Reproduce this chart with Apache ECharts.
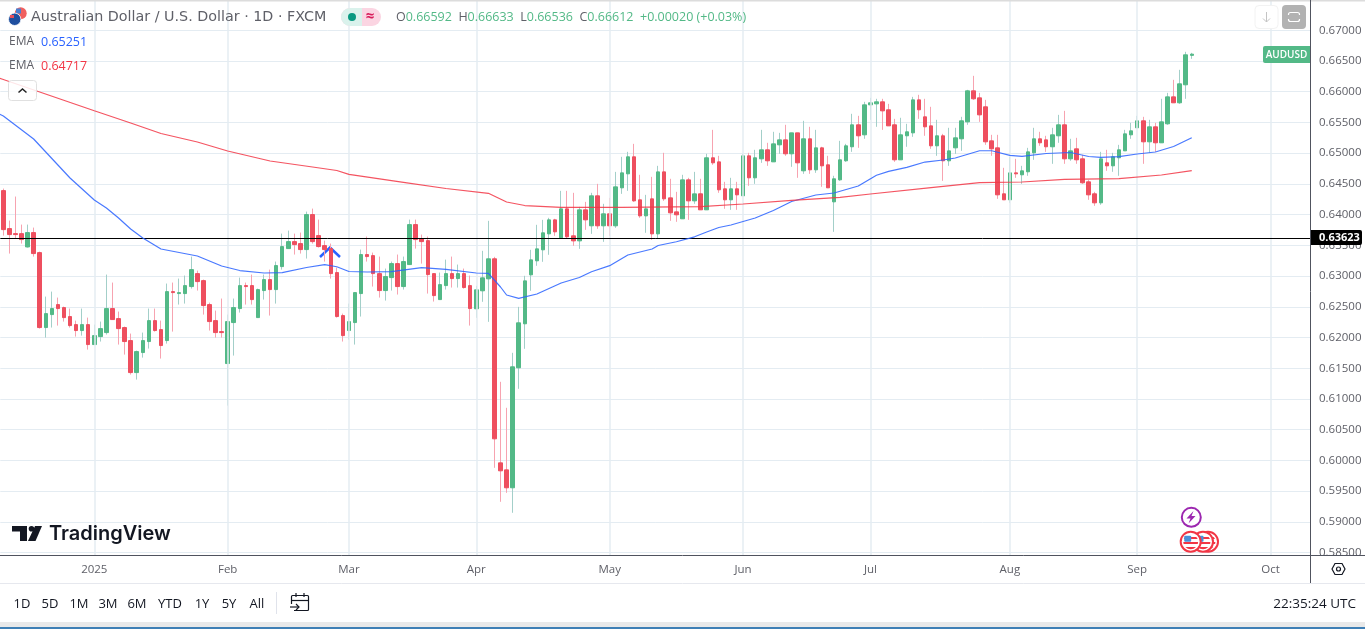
<!DOCTYPE html>
<html>
<head>
<meta charset="utf-8">
<title>AUDUSD</title>
<style>
html, body { margin: 0; padding: 0; background: #fff; }
#main { width: 1365px; height: 629px; }
</style>
<script src="https://cdn.jsdelivr.net/npm/echarts@6/dist/echarts.min.js"></script>
</head>
<body>
<div id="main"></div>
<script>
// axis labels, keyed by trading-day index
var monthTicks = {15: '2025', 37: 'Feb', 57: 'Mar', 78: 'Apr', 100: 'May', 122: 'Jun', 143: 'Jul', 166: 'Aug', 187: 'Sep', 209: 'Oct'};
var yTicks = [0.585, 0.59, 0.595, 0.6, 0.605, 0.61, 0.615, 0.62, 0.625, 0.63, 0.635, 0.64, 0.645, 0.65, 0.655, 0.66, 0.665, 0.67];
var lastPrice = 0.63623;

// open, close, low, high
var candles = [
[.64391,.63756,.63659,.64424],[.63773,.63675,.63366,.63903],[.63691,.63675,.63610,.64294],[.63691,.63594,.63529,.63838],
[.63474,.63708,.63464,.63838],[.63708,.63366,.63317,.63789],[.63382,.62162,.62145,.63398],[.62162,.62389,.61999,.62666],
[.62373,.62471,.62162,.62747],[.62536,.62471,.62194,.62650],[.62487,.62324,.62259,.62503],[.62341,.62194,.62162,.62471],
[.62210,.62113,.62015,.62275],[.62113,.62210,.62031,.62471],[.62210,.61885,.61803,.62324],[.61885,.62031,.61885,.62210],
[.62015,.62145,.61934,.62259],[.62080,.62471,.62048,.63024],[.62471,.62292,.62292,.62894],[.62308,.62145,.61885,.62422],
[.62162,.61934,.61722,.62178],[.61950,.61429,.61397,.62064],[.61429,.61771,.61315,.61787],[.61755,.61950,.61673,.62080],
[.61934,.62275,.61820,.62471],[.62275,.62113,.62096,.62471],[.62129,.61869,.61657,.62275],[.61950,.62747,.61901,.62878],
[.62747,.62731,.62096,.62894],[.62715,.62731,.62536,.62959],[.62715,.62845,.62552,.63008],[.62829,.63105,.62796,.63317],
[.63040,.62910,.62764,.63089],[.62926,.62520,.62373,.62943],[.62536,.62259,.62113,.62568],[.62275,.62080,.61999,.62438],
[.62096,.62080,.61999,.62634],[.61576,.62259,.60892,.62373],[.62243,.62487,.61706,.62634],[.62471,.62845,.62406,.62975],
[.62845,.62829,.62536,.62894],[.62845,.62617,.62536,.63024],[.62324,.62780,.62324,.62796],[.62764,.62943,.62617,.63024],
[.62943,.62780,.62357,.63105],[.62780,.63171,.62552,.63236],[.63154,.63480,.63105,.63691],[.63447,.63561,.63447,.63740],
[.63561,.63512,.63350,.63691],[.63529,.63431,.63366,.63708],[.63431,.64001,.63285,.64049],[.64001,.63561,.63529,.64098],
[.63659,.63480,.63464,.63919],[.63496,.63431,.63236,.63577],[.63447,.63040,.62959,.63529],[.63057,.62341,.62324,.63138],
[.62357,.62031,.61934,.62389],[.62113,.62259,.61966,.62552],[.62243,.62731,.61885,.62731],[.62715,.63350,.62341,.63431],
[.63350,.63317,.63236,.63643],[.63333,.63040,.62829,.63382],[.63040,.62764,.62650,.63317],[.62764,.62992,.62601,.63122],
[.62975,.63203,.62764,.63236],[.63203,.62829,.62699,.63350],[.62829,.63236,.62780,.63317],[.63187,.63838,.63187,.63919],
[.63838,.63594,.63447,.63919],[.63610,.63561,.63203,.63675],[.63577,.63024,.62715,.63643],[.63040,.62682,.62585,.63040],
[.62617,.62861,.62617,.63057],[.62845,.63040,.62780,.63268],[.63040,.62959,.62813,.63317],[.62959,.63040,.62813,.63187],
[.63040,.62813,.62796,.63122],[.62845,.62471,.62194,.63008],[.62467,.62776,.62320,.62841],[.62760,.62971,.62581,.63411],
[.62955,.63281,.62255,.63899],[.63281,.60351,.59879,.63313],[.59960,.59830,.59326,.61279],[.59846,.59554,.59472,.60856],
[.59554,.61523,.59147,.61751],[.61507,.62239,.61165,.62499],[.62223,.62922,.61816,.63004],[.63020,.63264,.62760,.63427],
[.63248,.63443,.63167,.63834],[.63427,.63704,.63232,.63915],[.63687,.63915,.63346,.63948],[.63915,.63720,.63655,.63932],
[.63622,.64094,.63606,.64387],[.64094,.63639,.63606,.64387],[.63655,.63573,.63492,.64355],[.63573,.64078,.63443,.64127],
[.64078,.63915,.63752,.64208],[.63818,.64306,.63687,.64355],[.64306,.63818,.63769,.64501],[.63818,.64013,.63557,.64176],
[.64013,.63818,.63655,.64273],[.63818,.64452,.63785,.64696],[.64436,.64680,.64338,.64941],[.64664,.64941,.64387,.65022],
[.64941,.64224,.64208,.65152],[.64241,.63980,.63948,.64648],[.63980,.64094,.63704,.64322],[.64257,.63687,.63590,.64615],
[.63687,.64696,.63606,.64794],[.64696,.64257,.64224,.65006],[.64273,.64029,.63899,.64583],[.64045,.63997,.63883,.64371],
[.63932,.64566,.63932,.64648],[.64566,.64224,.63915,.64599],[.64224,.64338,.64176,.64696],[.64339,.64078,.64078,.64583],
[.64078,.64925,.64078,.64990],[.64925,.64843,.64811,.65380],[.64859,.64404,.64355,.64957],[.64420,.64241,.64095,.64534],
[.64241,.64420,.64078,.64599],[.64420,.64322,.64078,.64534],[.64306,.64957,.64306,.64990],[.64957,.64599,.64469,.65006],
[.64599,.64925,.64501,.65055],[.64908,.65055,.64843,.65380],[.65055,.64876,.64794,.65169],[.64859,.65152,.64859,.65348],
[.65136,.65217,.64990,.65331],[.65217,.64990,.64957,.65462],[.64990,.65331,.64778,.65331],[.65331,.64843,.64599,.65331],
[.64713,.65234,.64664,.65527],[.65234,.64729,.64664,.65429],[.64729,.65087,.64680,.65380],[.65087,.64794,.64453,.65104],
[.64811,.64436,.64436,.64957],[.64208,.64583,.63720,.64632],[.64566,.64892,.64550,.65201],[.64876,.65120,.64859,.65152],
[.65104,.65462,.65022,.65641],[.65462,.65283,.65087,.65608],[.65299,.65787,.65234,.65836],[.65787,.65820,.65543,.65901],
[.65803,.65836,.65429,.65885],[.65836,.65689,.65380,.65885],[.65706,.65445,.65445,.65803],[.65462,.64892,.64859,.65559],
[.64892,.65299,.64892,.65576],[.65283,.65348,.65104,.65478],[.65331,.65868,.65266,.65917],[.65868,.65706,.65559,.65950],
[.65592,.65429,.65283,.65885],[.65445,.65120,.65071,.65755],[.65120,.65283,.64957,.65543],[.65283,.64876,.64550,.65315],
[.64876,.65038,.64794,.65413],[.65087,.65250,.64990,.65413],[.65234,.65527,.65038,.65592],[.65510,.66015,.65462,.66031],
[.66015,.65885,.65868,.66259],[.65901,.65624,.65510,.65982],[.65755,.65185,.65136,.65868],[.65201,.65071,.64957,.65299],
[.65087,.64322,.64257,.65299],[.64339,.64241,.64241,.64762],[.64241,.64680,.64192,.64941],[.64680,.64664,.64599,.64908],
[.64648,.64713,.64501,.64794],[.64697,.65022,.64632,.65087],[.65006,.65234,.64892,.65413],[.65234,.65169,.65120,.65348],
[.65217,.65104,.65022,.65283],[.65104,.65299,.64827,.65413],[.65283,.65462,.65169,.65624],[.65462,.64908,.64827,.65689],
[.64908,.65038,.64876,.65234],[.65071,.64892,.64827,.65250],[.64908,.64518,.64501,.64973],[.64534,.64322,.64241,.64566],
[.64339,.64192,.64143,.64371],[.64192,.64908,.64160,.65022],[.64843,.64794,.64713,.65055],[.64794,.64941,.64697,.65006],
[.64925,.65055,.64632,.65136],[.65038,.65315,.65038,.65380],[.65299,.65364,.65234,.65494],[.65413,.65527,.65413,.65608],
[.65527,.65185,.64827,.65592],[.65185,.65429,.65006,.65543],[.65429,.65169,.65022,.65494],[.65169,.65510,.65169,.65885],
[.65478,.65917,.65462,.65982],[.65917,.65820,.65820,.66194],[.65820,.66129,.65803,.66357],[.66113,.66601,.65885,.66650],
[.66592,.66612,.66536,.66633]
];

// EMA readings: [trading-day index, price]. Index -1 is the bar just off the left edge.
var emaBlue = [[-1,.65655],[0,.65605],[5,.65231],[11,.64596],[15,.64238],[17,.64108],[19,.63945],[21,.63766],[23,.63619],[26,.63440],[32,.63327],[36,.63164],[39,.63090],
[43,.63050],[46,.63055],[50,.63139],[53,.63185],[55,.63152],[57,.63074],[60,.63066],[64,.63071],[69,.63136],[73,.63110],[78,.63050],
[80,.63045],[82,.62822],[83,.62692],[85,.62638],[88,.62708],[92,.62887],[95,.62977],[97,.63071],[100,.63169],[103,.63343],[107,.63440],
[108,.63497],[111,.63559],[114,.63639],[116,.63717],[118,.63790],[120,.63831],[124,.63945],[127,.64067],[130,.64214],[134,.64319],
[137,.64352],[141,.64466],[144,.64640],[146,.64705],[149,.64770],[152,.64856],[155,.64889],[157,.64922],[161,.65040],[163,.65040],
[166,.64965],[168,.64949],[172,.64995],[176,.65011],[179,.64946],[181,.64933],[184,.64943],[187,.64987],[190,.65019],[193,.65109],[196,.65251]];
var emaRed = [[-1,.66232],[0,.66199],[15,.65691],[21,.65491],[26,.65320],[32,.65182],[37,.65035],[44,.64873],[51,.64775],[55,.64718],[57,.64656],
[66,.64526],[73,.64425],[80,.64347],[83,.64205],[86,.64148],[92,.64119],[102,.64119],[115,.64129],[122,.64173],[130,.64233],[138,.64282],
[143,.64336],[153,.64441],[161,.64520],[168,.64531],[175,.64575],[184,.64585],[191,.64645],[196,.64717]];

var categories = [];
for (var i = 0; i < 216; i++) {
    categories.push(monthTicks[i] || '');
}

var gridColor = '#e4ecf2';
var axisColor = '#50535e';
var font = '"Open Sans", "Noto Sans", sans-serif';
var up = '#53b987', down = '#ee4f5f';

var bodies = candles.map(function (c) {
    return [c[0], c[1], Math.min(c[0], c[1]), Math.max(c[0], c[1])];
});
var monthLines = Object.keys(monthTicks).map(function (k) {
    return {xAxis: Number(k)};
});

function label(text, x, y, size, fill, extra) {
    var style = {text: text, x: x, y: y, fill: fill, font: size + 'px ' + font, textVerticalAlign: 'middle'};
    for (var k in extra) style[k] = extra[k];
    return {type: 'text', z: 60, silent: true, style: style};
}
function usFlag(cx, cy) {
    var stripes = [];
    var cols = ['#ffffff', '#f23645', '#ffffff', '#f23645', '#ffffff', '#f23645'];
    cols.forEach(function (c, n) {
        stripes.push({offset: n / 6, color: c}, {offset: (n + 1) / 6, color: c});
    });
    return [
        {type: 'circle', z: 40, shape: {cx: cx, cy: cy, r: 10}, style: {fill: '#fff', stroke: '#f23645', lineWidth: 2}},
        {type: 'circle', z: 40, shape: {cx: cx, cy: cy, r: 7.5}, style: {fill: {type: 'linear', x: 0, y: 0, x2: 0, y2: 1, colorStops: stripes}}},
        {type: 'rect', z: 40, shape: {x: cx - 6.5, y: cy - 6, width: 7, height: 6, r: 1}, style: {fill: '#4a90d9'}}
    ];
}

var chrome = [
    // window edges
    {type: 'rect', z: 55, shape: {x: 0, y: 0, width: 1365, height: 1.5}, style: {fill: '#dcdcdc'}},
    {type: 'rect', z: 55, shape: {x: 0, y: 622, width: 1365, height: 7}, style: {fill: '#e9e9e9'}},
    {type: 'rect', z: 55, shape: {x: 0, y: 627, width: 1365, height: 2}, style: {fill: '#3f7fb5'}},
    {type: 'line', z: 55, shape: {x1: 0, y1: 583.5, x2: 1365, y2: 583.5}, style: {stroke: '#e6e8ee', lineWidth: 1}},
    {type: 'line', z: 55, shape: {x1: 1310.5, y1: 0, x2: 1310.5, y2: 583}, style: {stroke: axisColor, lineWidth: 1}},
    {type: 'line', z: 55, shape: {x1: 0, y1: 555.5, x2: 1365, y2: 555.5}, style: {stroke: axisColor, lineWidth: 1}},

    // symbol flags
    {type: 'circle', z: 60, shape: {cx: 20.7, cy: 13.3, r: 6}, style: {fill: '#f0605f'}},
    {type: 'rect', z: 60, shape: {x: 16, y: 8.5, width: 5, height: 5}, style: {fill: '#4a7fd0'}},
    {type: 'circle', z: 60, shape: {cx: 14.7, cy: 19.3, r: 6.2}, style: {fill: '#1f4f9f', stroke: '#fff', lineWidth: 0.8}},
    {type: 'rect', z: 60, shape: {x: 10, y: 15, width: 4, height: 3}, style: {fill: '#e8505b'}},

    // header
    label('Australian Dollar / U.S. Dollar · 1D · FXCM', 31, 17.5, 14.3, '#5f6068', {font: '14.3px "DejaVu Sans", sans-serif'}),
    {type: 'rect', z: 60, shape: {x: 341, y: 8, width: 40, height: 18, r: 9}, style: {fill: '#fbd5e2'}},
    {type: 'rect', z: 60, shape: {x: 341, y: 8, width: 21, height: 18, r: [9, 0, 0, 9]}, style: {fill: '#daf2ec'}},
    {type: 'circle', z: 60, shape: {cx: 352, cy: 17, r: 4}, style: {fill: '#089981'}},
    label('≈', 370, 16.5, 15, '#d81e5b', {textAlign: 'center', font: 'bold 15px ' + font}),
    {type: 'text', z: 60, silent: true, style: {
        x: 396, y: 17.5, textVerticalAlign: 'middle', font: '12.5px ' + font,
        text: '{k|O}{v|0.66592}  {k|H}{v|0.66633}  {k|L}{v|0.66536}  {k|C}{v|0.66612}  {v|+0.00020 (+0.03%)}',
        rich: {k: {fill: '#5f6068', font: '12.5px ' + font}, v: {fill: '#53b987', font: '12.5px ' + font}}
    }},
    label('EMA', 9, 42, 12, '#5f6068'),
    label('0.65251', 41, 42, 12.5, '#2962ff'),
    label('EMA', 9, 66, 12, '#5f6068'),
    label('0.64717', 41, 66, 12.5, '#f23645'),
    {type: 'rect', z: 60, shape: {x: 8.5, y: 80.5, width: 28, height: 20, r: 3}, style: {fill: 'rgba(255,255,255,0.85)', stroke: '#e0e0e0', lineWidth: 1}},
    {type: 'polyline', z: 60, shape: {points: [[18.5, 92.5], [22.5, 89], [26.5, 92.5]]}, style: {fill: 'none', stroke: '#222', lineWidth: 1.5}},

    // top right buttons
    {type: 'rect', z: 60, shape: {x: 1255, y: 5.5, width: 23, height: 23, r: 4}, style: {fill: '#fff', stroke: '#f2f2f2', lineWidth: 1}},
    {type: 'polyline', z: 60, shape: {points: [[1266.5, 12], [1266.5, 22]]}, style: {fill: 'none', stroke: '#c4c4c4', lineWidth: 1}},
    {type: 'polyline', z: 60, shape: {points: [[1263, 18.5], [1266.5, 22], [1270, 18.5]]}, style: {fill: 'none', stroke: '#c4c4c4', lineWidth: 1}},
    {type: 'rect', z: 60, shape: {x: 1282, y: 5, width: 24, height: 24, r: 4}, style: {fill: '#b2b2b2'}},
    {type: 'rect', z: 60, shape: {x: 1288.5, y: 12.5, width: 11, height: 9, r: 2}, style: {fill: 'none', stroke: '#fff', lineWidth: 1.2}},
    {type: 'rect', z: 60, shape: {x: 1285, y: 15, width: 18, height: 4}, style: {fill: '#b2b2b2'}},

    // series tag
    {type: 'rect', z: 60, shape: {x: 1263, y: 46, width: 47, height: 17, r: [2, 0, 0, 2]}, style: {fill: '#53b987'}},
    label('AUDUSD', 1286.5, 55, 10, '#fff', {textAlign: 'center', font: '600 10px ' + font}),

    // price tag
    {type: 'rect', z: 60, shape: {x: 1311, y: 230, width: 51, height: 15, r: [0, 2, 2, 0]}, style: {fill: '#000'}},
    label('0.63623', 1319, 238, 11, '#fff', {font: 'bold 11px ' + font}),

    // drawn arrow
    {type: 'polyline', z: 1, shape: {points: [[320, 257], [330, 247.5], [340, 257]]}, style: {fill: 'none', stroke: '#2962ff', lineWidth: 2.5}},

    // logo
    {type: 'polygon', z: 60, shape: {points: [[12, 526], [27, 526], [27, 541], [20, 541], [20, 531.5], [12, 531.5]]}, style: {fill: '#131722'}},
    {type: 'circle', z: 60, shape: {cx: 31.5, cy: 528.8, r: 2.8}, style: {fill: '#131722'}},
    {type: 'polygon', z: 60, shape: {points: [[35, 526], [42, 526], [35.5, 541], [28, 541]]}, style: {fill: '#131722'}},
    label('TradingView', 49, 534, 20, '#131722', {font: '600 20px Inter, sans-serif'}),

    // events
    {type: 'circle', z: 40, shape: {cx: 1191.3, cy: 517.3, r: 9.5}, style: {fill: '#fff', stroke: '#9c27b0', lineWidth: 2}},
    {type: 'polygon', z: 40, shape: {points: [[1193.5, 511], [1186.5, 518.5], [1190.5, 518.5], [1188.5, 523.5], [1195.5, 516], [1191.5, 516]]}, style: {fill: '#9c27b0'}}
].concat(usFlag(1208, 541.7), usFlag(1203, 541.7), usFlag(1190.7, 541.7), [
    // footer
    {type: 'line', z: 60, shape: {x1: 276.5, y1: 592, x2: 276.5, y2: 614}, style: {stroke: '#e0e3eb', lineWidth: 1}},
    {type: 'rect', z: 60, shape: {x: 291.5, y: 595.5, width: 17, height: 15, r: 1}, style: {fill: 'none', stroke: '#131722', lineWidth: 1.2}},
    {type: 'rect', z: 60, shape: {x: 289, y: 604, width: 5, height: 7}, style: {fill: '#fff'}},
    {type: 'line', z: 60, shape: {x1: 291.5, y1: 600.5, x2: 308.5, y2: 600.5}, style: {stroke: '#131722', lineWidth: 1.2}},
    {type: 'line', z: 60, shape: {x1: 296, y1: 593, x2: 296, y2: 597}, style: {stroke: '#131722', lineWidth: 1.2}},
    {type: 'line', z: 60, shape: {x1: 304, y1: 593, x2: 304, y2: 597}, style: {stroke: '#131722', lineWidth: 1.2}},
    {type: 'polyline', z: 60, shape: {points: [[290, 607], [299, 607]]}, style: {fill: 'none', stroke: '#131722', lineWidth: 1.2}},
    {type: 'polyline', z: 60, shape: {points: [[296, 604], [299, 607], [296, 610]]}, style: {fill: 'none', stroke: '#131722', lineWidth: 1.2}},
    label('22:35:24 UTC', 1356, 604, 13.5, '#131722', {textAlign: 'right'}),
    {type: 'polygon', z: 60, shape: {points: [[1332, 569], [1335, 563.5], [1342, 563.5], [1345, 569], [1342, 574.5], [1335, 574.5]]}, style: {fill: 'none', stroke: '#131722', lineWidth: 1.2}},
    {type: 'circle', z: 60, shape: {cx: 1338.5, cy: 569, r: 2}, style: {fill: 'none', stroke: '#131722', lineWidth: 1.2}}
]);
[['1D', 22], ['5D', 50], ['1M', 79], ['3M', 108], ['6M', 137], ['YTD', 170], ['1Y', 202], ['5Y', 229], ['All', 257]].forEach(function (b) {
    chrome.push(label(b[0], b[1], 604, 13, '#131722', {textAlign: 'center'}));
});

var dom = document.getElementById('main');
var myChart = echarts.init(dom, null, {renderer: 'canvas'});

var option = {
    animation: false,
    backgroundColor: '#fff',
    grid: {left: 0.3, right: 55, top: 1, bottom: 74},
    xAxis: {
        type: 'category',
        data: categories,
        axisLine: {show: false},
        axisTick: {show: false},
        splitLine: {show: false},
        axisLabel: {interval: 0, margin: 9, color: '#5f6068', fontSize: 11.5, fontFamily: font}
    },
    yAxis: {
        type: 'value',
        position: 'right',
        min: 0.5846,
        max: 0.67477,
        axisLine: {show: false},
        axisTick: {show: false, customValues: yTicks},
        splitLine: {show: true, lineStyle: {color: gridColor, width: 1}},
        axisLabel: {
            customValues: yTicks,
            margin: 9,
            color: '#5f6068',
            fontSize: 11.5,
            fontFamily: font,
            formatter: function (v) { return v.toFixed(5); }
        }
    },
    graphic: {elements: chrome},
    series: [
        {
            name: 'months',
            type: 'line',
            z: 0,
            data: [],
            markLine: {
                silent: true,
                symbol: 'none',
                label: {show: false},
                lineStyle: {color: gridColor, width: 1.5, type: 'solid'},
                data: monthLines
            }
        },
        {
            name: 'wicks',
            type: 'candlestick',
            z: 3,
            barWidth: 1,
            itemStyle: {color: '#a3cfc9', color0: '#f7a3b0', borderColor: '#a3cfc9', borderColor0: '#f7a3b0', borderWidth: 1},
            data: candles
        },
        {
            name: 'bodies',
            type: 'candlestick',
            z: 4,
            barWidth: 4,
            itemStyle: {color: up, color0: down, borderColor: up, borderColor0: down, borderWidth: 1},
            data: bodies
        },
        {
            name: 'EMA 50',
            type: 'line',
            z: 5,
            showSymbol: false,
            lineStyle: {color: '#2962ff', width: 1.2, opacity: 0.85},
            data: emaBlue
        },
        {
            name: 'EMA 200',
            type: 'line',
            z: 5,
            showSymbol: false,
            lineStyle: {color: '#f23645', width: 1.2, opacity: 0.85},
            data: emaRed,
            markLine: {
                silent: true,
                symbol: 'none',
                precision: 5,
                label: {show: false},
                lineStyle: {color: '#000', width: 1, type: 'solid'},
                data: [{yAxis: lastPrice}]
            }
        }
    ]
};

if (option && typeof option === 'object') {
    myChart.setOption(option);
}

window.addEventListener('resize', myChart.resize);
</script>
</body>
</html>
